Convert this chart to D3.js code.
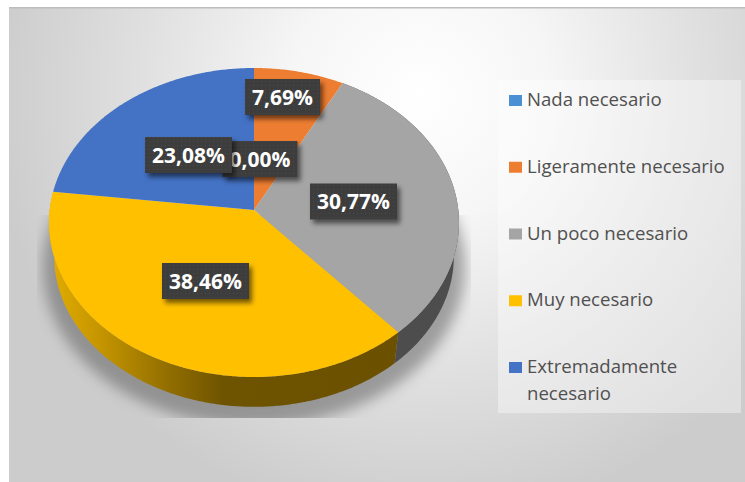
<!DOCTYPE html>
<html><head><meta charset="utf-8">
<style>html,body{margin:0;padding:0;background:#fff}svg{display:block}</style>
<script src="https://cdn.jsdelivr.net/npm/d3@7/dist/d3.min.js"></script>
</head><body><div id="c"></div>
<script>
const categories = ["Nada necesario","Ligeramente necesario","Un poco necesario","Muy necesario","Extremadamente necesario"];
const values = [0.00,7.69,30.77,38.46,23.08];
const colors = ["#4a90d2","#ed7d31","#a5a5a5","#ffc000","#4472c4"];
const legendLines = [["Nada necesario"],["Ligeramente necesario"],["Un poco necesario"],["Muy necesario"],["Extremadamente","necesario"]];

const W=745,H=482;
const svg=d3.select("#c").append("svg").attr("width",W).attr("height",H);
const defs=svg.append("defs");

const bg=defs.append("radialGradient").attr("id","bg").attr("gradientUnits","userSpaceOnUse")
  .attr("cx",420).attr("cy",95).attr("r",430);
[[0,"#ffffff"],[0.3,"#f6f6f6"],[0.65,"#e0e0e0"],[1,"#cccccc"]].forEach(s=>bg.append("stop").attr("offset",s[0]).attr("stop-color",s[1]));

const side=defs.append("linearGradient").attr("id","sideY").attr("gradientUnits","userSpaceOnUse")
  .attr("x1",49).attr("x2",400).attr("y1",0).attr("y2",0);
[[0,"#e2ad00"],[0.15,"#c49400"],[0.35,"#8f6c00"],[0.5,"#6e5300"],[1,"#6b5000"]].forEach(s=>side.append("stop").attr("offset",s[0]).attr("stop-color",s[1]));

defs.append("filter").attr("id","blurS").attr("x","-20%").attr("y","-20%").attr("width","140%").attr("height","140%")
  .append("feGaussianBlur").attr("stdDeviation",7);
const ls=defs.append("filter").attr("id","lblS").attr("x","-20%").attr("y","-30%").attr("width","140%").attr("height","170%");
ls.append("feDropShadow").attr("dx",3).attr("dy",4).attr("stdDeviation",2.5).attr("flood-color","#000").attr("flood-opacity",0.55);
const pat=defs.append("pattern").attr("id","dots").attr("patternUnits","userSpaceOnUse").attr("width",4).attr("height",4);
pat.append("rect").attr("width",4).attr("height",4).attr("fill","#3e3e3e");
pat.append("rect").attr("x",1).attr("y",1).attr("width",1).attr("height",1).attr("fill","#4c4c4c");
defs.append("clipPath").attr("id","shClip").append("rect").attr("x",37).attr("y",215).attr("width",434).attr("height",203);

// panel
svg.append("rect").attr("x",9).attr("y",8).attr("width",W-9).attr("height",H-8).attr("fill","url(#bg)");
svg.append("rect").attr("x",9).attr("y",7).attr("width",W-9).attr("height",1.5).attr("fill","#bdbdbd");

// perspective projection of the pie disc
const cx=254,cy=210,a=204.3,b=153.5,k=0.0809;
function proj(th,scale=1,dy=0){
  const x=Math.sin(th),y=-Math.cos(th),w=1-k*y;
  return [cx+scale*a*x/w, cy+dy+scale*b*y/w];
}
const line=d3.line();
const arcs=d3.pie().sort(null).value(d=>d)(values);
const color=d3.scaleOrdinal().domain(categories).range(colors);
const arcPts=(t0,t1,s,dy)=>{
  const n=Math.max(2,Math.ceil((t1-t0)/0.01));
  return d3.range(n+1).map(i=>proj(t0+(t1-t0)*i/n,s,dy));
};
const bs=0.975,bd=34;

// soft ground shadow
svg.append("g").attr("clip-path","url(#shClip)").append("path")
  .attr("d",line(arcPts(0,2*Math.PI,1.03,44))+"Z")
  .attr("fill","#555").attr("opacity",0.5).attr("filter","url(#blurS)");

// side wall
const sideFill=["none","none","#4d4d4d","url(#sideY)","none"];
svg.append("g").selectAll("path").data(arcs).join("path")
  .filter(d=>d.endAngle>d.startAngle && sideFill[d.index]!=="none")
  .attr("fill",d=>sideFill[d.index])
  .attr("d",d=>line([...arcPts(d.startAngle,d.endAngle,1,0),...arcPts(d.startAngle,d.endAngle,bs,bd).reverse()])+"Z");

// top face
svg.append("g").selectAll("path").data(arcs).join("path")
  .filter(d=>d.endAngle>d.startAngle)
  .attr("fill",d=>color(categories[d.index]))
  .attr("d",d=>line([[cx,cy],...arcPts(d.startAngle,d.endAngle,1,0)])+"Z");

// data labels (centre x, centre y, box width)
const labelLayout=[[260,159,75],[282.5,97,75],[353.5,201.5,87],[205.5,281,87],[188.5,155,87]];
const fmt=v=>v.toFixed(2).replace(".",",")+"%";
const order=[1,0,2,3,4];
const lg=svg.append("g").selectAll("g").data(order).join("g");
lg.append("rect").attr("x",i=>labelLayout[i][0]-labelLayout[i][2]/2).attr("y",i=>labelLayout[i][1]-18)
  .attr("width",i=>labelLayout[i][2]).attr("height",36).attr("fill","url(#dots)").attr("filter","url(#lblS)");
lg.append("text").attr("x",i=>labelLayout[i][0]).attr("y",i=>labelLayout[i][1]+7.5)
  .attr("text-anchor","middle").attr("font-family","'Open Sans'").attr("font-weight",700).attr("font-size",21)
  .attr("fill","#fff").text(i=>fmt(values[i]));

// legend
svg.append("rect").attr("x",498).attr("y",80).attr("width",243).attr("height",333).attr("fill","#fff").attr("opacity",0.38);
const ly=d3.scaleLinear().domain([0,4]).range([106,373]);
const items=svg.append("g").selectAll("g").data(categories).join("g");
items.append("rect").attr("x",509).attr("y",(d,i)=>ly(i)-11).attr("width",13).attr("height",11).attr("fill",d=>color(d));
items.append("text").attr("x",527).attr("y",(d,i)=>ly(i)).attr("font-family","'Open Sans'").attr("font-size",18.6).attr("fill","#505050")
  .selectAll("tspan").data((d,i)=>legendLines[i]).join("tspan").attr("x",527).attr("dy",(d,j)=>j?27:0).text(d=>d);
</script></body></html>
